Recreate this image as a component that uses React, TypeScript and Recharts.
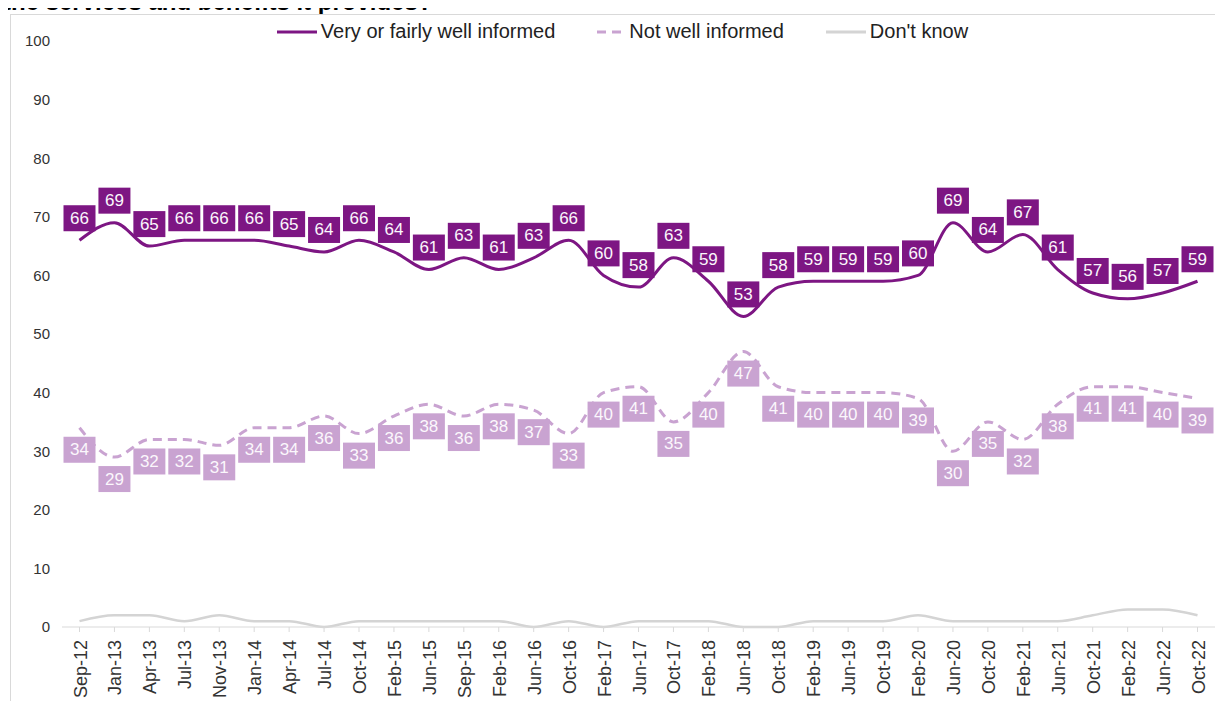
import { LineChart, Line, XAxis, YAxis, Legend } from "recharts";

const FONT = "'Liberation Sans', Arial, sans-serif";

const months = [
  "Sep-12", "Jan-13", "Apr-13", "Jul-13", "Nov-13", "Jan-14", "Apr-14", "Jul-14",
  "Oct-14", "Feb-15", "Jun-15", "Sep-15", "Feb-16", "Jun-16", "Oct-16", "Feb-17",
  "Jun-17", "Oct-17", "Feb-18", "Jun-18", "Oct-18", "Feb-19", "Jun-19", "Oct-19",
  "Feb-20", "Jun-20", "Oct-20", "Feb-21", "Jun-21", "Oct-21", "Feb-22", "Jun-22",
  "Oct-22",
];

const wellInformed = [
  66, 69, 65, 66, 66, 66, 65, 64, 66, 64, 61, 63, 61, 63, 66, 60, 58, 63, 59, 53,
  58, 59, 59, 59, 60, 69, 64, 67, 61, 57, 56, 57, 59,
];

const notWellInformed = [
  34, 29, 32, 32, 31, 34, 34, 36, 33, 36, 38, 36, 38, 37, 33, 40, 41, 35, 40, 47,
  41, 40, 40, 40, 39, 30, 35, 32, 38, 41, 41, 40, 39,
];

const dontKnow = [
  1, 2, 2, 1, 2, 1, 1, 0, 1, 1, 1, 1, 1, 0, 1, 0, 1, 1, 1, 0, 0, 1, 1, 1, 2, 1, 1,
  1, 1, 2, 3, 3, 2,
];

const yTicks = [0, 10, 20, 30, 40, 50, 60, 70, 80, 90, 100];

const DARK = "#7d1683";
const LIGHT = "#c9a3d1";
const GREY = "#d4d4d4";

const data = months.map((m, i) => ({
  month: m,
  well: wellInformed[i],
  notWell: notWellInformed[i],
  dk: dontKnow[i],
}));

function boxLabel(fill: string, dy: number) {
  return (props: any) => {
    const { x, y, value, index } = props;
    if (x == null || y == null) return null;
    return (
      <g key={`lbl-${fill}-${index}`}>
        <rect x={x - 16} y={y + dy - 13} width={32} height={26} fill={fill} />
        <text
          x={x}
          y={y + dy + 1}
          textAnchor="middle"
          dominantBaseline="middle"
          fontSize={17}
          fontFamily={FONT}
          fill="#fbf7fc"
        >
          {value}
        </text>
      </g>
    );
  };
}

function MonthTick(props: any) {
  const { x, y, payload } = props;
  return (
    <text
      x={x + 7}
      y={y + 6}
      transform={`rotate(-90, ${x + 7}, ${y + 6})`}
      textAnchor="end"
      fontSize={18}
      fontFamily={FONT}
      fill="#333"
    >
      {payload.value}
    </text>
  );
}

function LegendContent() {
  const item = (label: string, color: string, dash?: string, w = 40) => (
    <div style={{ display: "flex", alignItems: "center" }}>
      <svg width={w} height={6} style={{ marginRight: 4 }}>
        <line x1={0} y1={3} x2={w} y2={3} stroke={color} strokeWidth={3} strokeDasharray={dash} />
      </svg>
      <span>{label}</span>
    </div>
  );
  return (
    <div
      style={{
        display: "flex",
        justifyContent: "center",
        gap: 42,
        fontFamily: FONT,
        fontSize: 20,
        color: "#222",
        paddingLeft: 22,
      }}
    >
      {item("Very or fairly well informed", DARK)}
      {item("Not well informed", LIGHT, "9 6", 28)}
      {item("Don't know", GREY)}
    </div>
  );
}

export default function App() {
  return (
    <div style={{ position: "relative", width: 1223, height: 709, margin: -8, overflow: "hidden", background: "#fff" }}>
      <div
        style={{
          position: "absolute",
          top: -10,
          left: 3,
          fontFamily: FONT,
          fontWeight: "bold",
          fontSize: 24,
          lineHeight: "24px",
          color: "#000",
          whiteSpace: "nowrap",
        }}
      >
        the services and benefits it provides?
      </div>
      <div
        style={{
          position: "absolute",
          top: 14,
          left: 10,
          width: 1300,
          height: 800,
          border: "1px solid #d9d9d9",
          background: "#fff",
        }}
      />
      <div style={{ position: "absolute", top: 0, left: 0 }}>
        <LineChart width={1223} height={709} data={data} margin={{ top: 18, right: 8, bottom: 0, left: 0 }}>
          <XAxis
            dataKey="month"
            interval={0}
            height={82}
            padding={{ left: 17.5, right: 17.5 }}
            axisLine={{ stroke: "#d9d9d9" }}
            tickLine={{ stroke: "#d9d9d9" }}
            tickSize={5}
            tick={<MonthTick />}
          />
          <YAxis
            domain={[0, 100]}
            ticks={yTicks}
            width={62}
            axisLine={false}
            tickLine={false}
            tickMargin={6}
            tick={{ fontSize: 15, fill: "#333", fontFamily: FONT }}
          />
          <Legend
            verticalAlign="top"
            content={<LegendContent />}
            wrapperStyle={{ top: 20, left: 0, width: 1223 }}
          />
          <Line
            dataKey="dk"
            type="monotone"
            stroke={GREY}
            strokeWidth={2.5}
            dot={false}
            isAnimationActive={false}
          />
          <Line
            dataKey="notWell"
            type="monotone"
            stroke={LIGHT}
            strokeWidth={3}
            strokeDasharray="9 6"
            dot={false}
            label={boxLabel(LIGHT, 22)}
            isAnimationActive={false}
          />
          <Line
            dataKey="well"
            type="monotone"
            stroke={DARK}
            strokeWidth={3}
            dot={false}
            label={boxLabel(DARK, -22)}
            isAnimationActive={false}
          />
        </LineChart>
      </div>
    </div>
  );
}
